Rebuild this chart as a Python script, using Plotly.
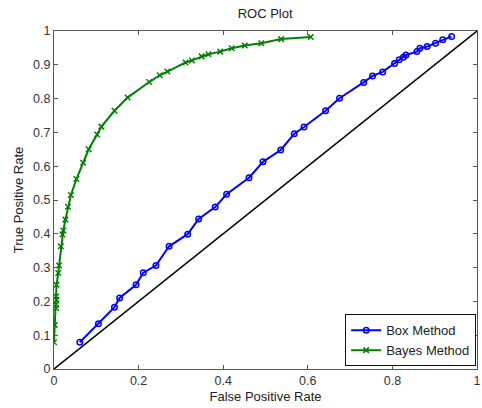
import plotly.graph_objects as go

# Box method ROC points (false positive rate, true positive rate)
box_fpr = [0.061, 0.105, 0.143, 0.155, 0.194, 0.211, 0.241, 0.272, 0.316, 0.342,
           0.381, 0.408, 0.461, 0.494, 0.536, 0.568, 0.591, 0.642, 0.675, 0.732,
           0.753, 0.777, 0.805, 0.816, 0.826, 0.832, 0.858, 0.865, 0.882, 0.902,
           0.919, 0.940]
box_tpr = [0.079, 0.134, 0.183, 0.210, 0.249, 0.285, 0.306, 0.363, 0.399, 0.444,
           0.479, 0.517, 0.566, 0.613, 0.648, 0.696, 0.716, 0.764, 0.801, 0.848,
           0.867, 0.879, 0.904, 0.915, 0.922, 0.929, 0.939, 0.949, 0.954, 0.964,
           0.974, 0.984]

# Bayes method ROC points
bayes_fpr = [0.000, 0.002, 0.005, 0.005, 0.006, 0.005, 0.006, 0.010, 0.012, 0.016,
             0.020, 0.022, 0.027, 0.033, 0.040, 0.053, 0.069, 0.082, 0.102, 0.112,
             0.143, 0.174, 0.225, 0.250, 0.268, 0.311, 0.326, 0.349, 0.365, 0.393,
             0.420, 0.451, 0.490, 0.537, 0.607]
bayes_tpr = [0.079, 0.130, 0.180, 0.190, 0.205, 0.215, 0.249, 0.284, 0.306, 0.363,
             0.398, 0.410, 0.442, 0.480, 0.515, 0.562, 0.610, 0.650, 0.694, 0.717,
             0.764, 0.803, 0.849, 0.869, 0.880, 0.907, 0.913, 0.925, 0.931, 0.939,
             0.949, 0.957, 0.964, 0.976, 0.982]

# Chance diagonal
diag = [0, 1]

x_ticks = [0, 0.2, 0.4, 0.6, 0.8, 1]
y_ticks = [0, 0.1, 0.2, 0.3, 0.4, 0.5, 0.6, 0.7, 0.8, 0.9, 1]

FONT = "Liberation Sans, Arial, sans-serif"

fig = go.Figure()
fig.add_trace(go.Scatter(x=box_fpr, y=box_tpr, mode="lines+markers", name="Box Method",
                         line=dict(color="#0000ff", width=2),
                         marker=dict(symbol="circle-open", size=5.5, color="#0000ff",
                                     line=dict(width=1.5))))
fig.add_trace(go.Scatter(x=bayes_fpr, y=bayes_tpr, mode="lines+markers", name="Bayes Method",
                         line=dict(color="#008000", width=2),
                         marker=dict(symbol="x-thin-open", size=5.5, color="#008000",
                                     line=dict(width=1.5, color="#008000"))))
fig.add_trace(go.Scatter(x=diag, y=diag, mode="lines", showlegend=False,
                         line=dict(color="black", width=1.5)))

axis_common = dict(showline=True, linecolor="#555", linewidth=1, mirror="ticks",
                   ticks="inside", ticklen=4, tickcolor="#555", showgrid=False,
                   zeroline=False, ticklabeloverflow="allow",
                   tickfont=dict(size=12.5, color="#333", family=FONT))

fig.update_layout(
    width=482, height=408,
    margin=dict(l=54, r=5, t=31, b=39),
    paper_bgcolor="white", plot_bgcolor="white",
    font=dict(family=FONT, size=13, color="#222"),
    title=dict(text="ROC Plot", x=0.55, xanchor="center", y=0.978, yanchor="top",
               font=dict(size=13)),
    xaxis=dict(range=[0, 1], tickvals=x_ticks, ticktext=[f"{v:g}" for v in x_ticks],
               title=dict(text="False Positive Rate", standoff=4, font=dict(size=13)),
               automargin=False, **axis_common),
    yaxis=dict(range=[0, 1], tickvals=y_ticks, ticktext=[f"{v:g}" for v in y_ticks],
               title=dict(text="True Positive Rate", standoff=6, font=dict(size=13)),
               automargin=False, **axis_common),
    legend=dict(x=0.998, y=0.008, xanchor="right", yanchor="bottom",
                bgcolor="white", bordercolor="#111", borderwidth=1,
                font=dict(size=13, color="#222", family=FONT), tracegroupgap=0,
                itemwidth=30),
)

fig.write_html("out.html")
